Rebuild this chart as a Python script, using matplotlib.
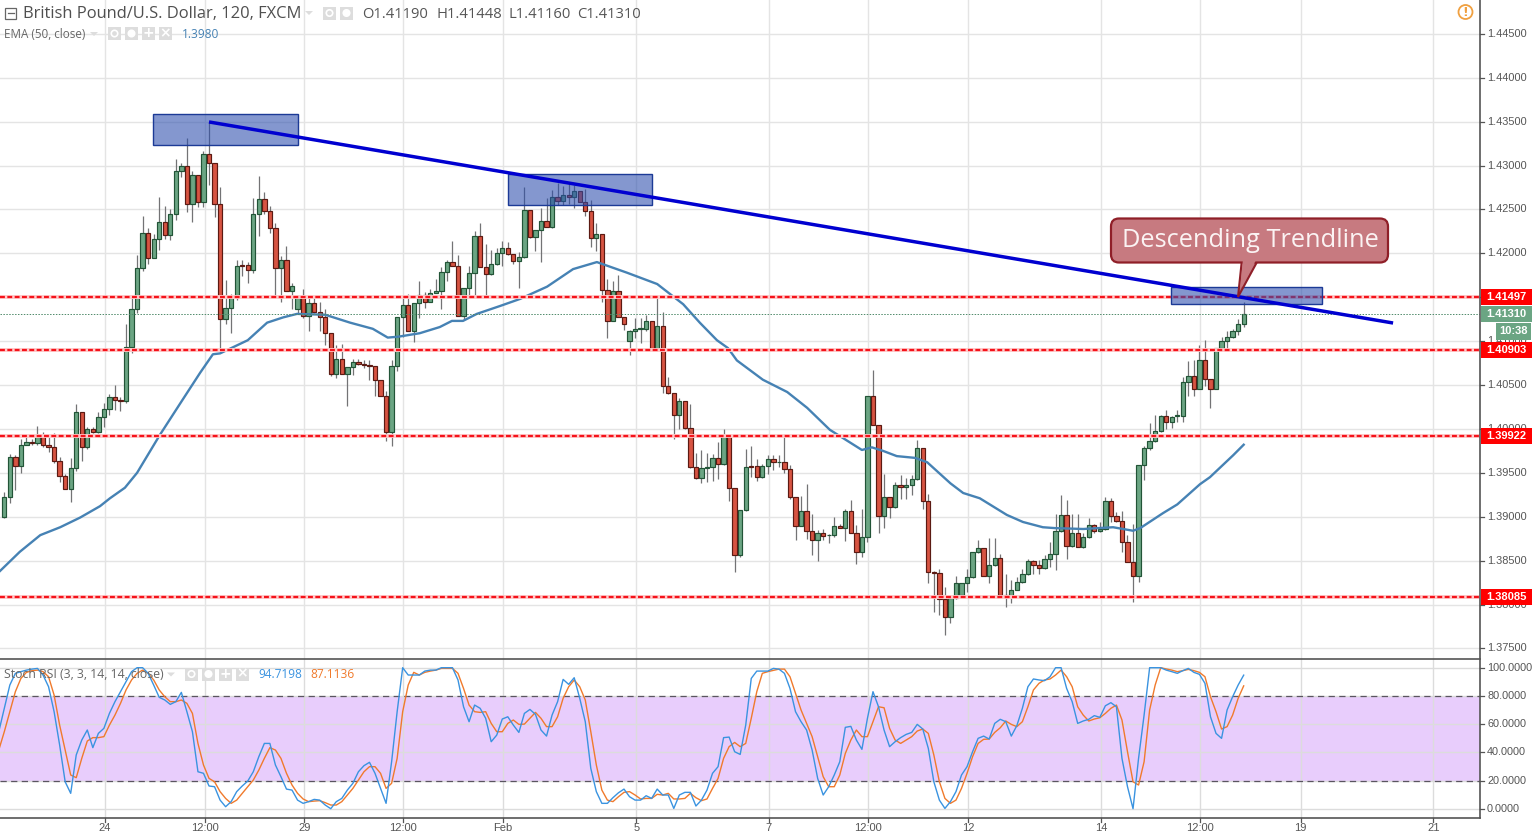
import numpy as np
import matplotlib
matplotlib.use("Agg")
import matplotlib.pyplot as plt
from matplotlib.patches import Rectangle, FancyBboxPatch, Polygon, Circle

# ---------- data ----------
opens = [1.3900,1.3922,1.3968,1.3958,1.3982,1.3985,1.3984,1.3993,1.3982,1.3979,
1.3964,1.3946,1.3932,1.3955,1.4019,1.3979,1.4000,1.3996,1.4013,1.4023,
1.4036,1.4033,1.4032,1.4093,1.4137,1.4183,1.4223,1.4195,1.4216,1.4236,
1.4221,1.4245,1.4294,1.4300,1.4256,1.4289,1.4258,1.4313,1.4303,1.4256,
1.4125,1.4138,1.4150,1.4187,1.4187,1.4181,1.4245,1.4262,1.4248,1.4229,
1.4183,1.4192,1.4157,1.4136,1.4150,1.4129,1.4143,1.4133,1.4127,1.4109,
1.4062,1.4080,1.4063,1.4070,1.4076,1.4074,1.4073,1.4072,1.4056,1.4038,
1.3996,1.4072,1.4128,1.4141,1.4112,1.4143,1.4153,1.4144,1.4155,1.4157,
1.4179,1.4190,1.4186,1.4129,1.4161,1.4177,1.4220,1.4184,1.4176,1.4188,
1.4200,1.4206,1.4199,1.4191,1.4196,1.4249,1.4218,1.4227,1.4237,1.4230,
1.4264,1.4260,1.4266,1.4264,1.4271,1.4258,1.4248,1.4217,1.4222,1.4158,
1.4123,1.4157,1.4128,1.4100,1.4111,1.4114,1.4114,1.4123,1.4090,1.4117,
1.4049,1.4041,1.4016,1.4032,1.4001,1.3957,1.3944,1.3955,1.3957,1.3967,
1.3960,1.3993,1.3933,1.3856,1.3908,1.3958,1.3958,1.3945,1.3958,1.3966,
1.3962,1.3962,1.3954,1.3923,1.3889,1.3906,1.3884,1.3874,1.3881,1.3879,
1.3879,1.3889,1.3887,1.3906,1.3881,1.3860,1.3877,1.4037,1.4005,1.3901,
1.3922,1.3911,1.3936,1.3934,1.3936,1.3943,1.3978,1.3918,1.3837,1.3836,
1.3806,1.3786,1.3807,1.3811,1.3824,1.3831,1.3860,1.3864,1.3833,1.3845,
1.3853,1.3811,1.3809,1.3817,1.3826,1.3835,1.3850,1.3845,1.3842,1.3852,
1.3857,1.3884,1.3902,1.3867,1.3882,1.3865,1.3877,1.3891,1.3884,1.3886,
1.3918,1.3901,1.3895,1.3871,1.3848,1.3833,1.3959,1.3978,1.3986,1.3998,
1.4015,1.4008,1.4015,1.4015,1.4053,1.4060,1.4046,1.4078,1.4057,1.4046,
1.4092,1.4100,1.4105,1.4112,1.4119]
closes = [1.3922,1.3968,1.3958,1.3982,1.3985,1.3984,1.3993,1.3982,1.3979,1.3964,
1.3946,1.3932,1.3955,1.4019,1.3979,1.4000,1.3996,1.4013,1.4023,1.4036,
1.4033,1.4032,1.4093,1.4137,1.4183,1.4223,1.4195,1.4216,1.4236,1.4221,
1.4245,1.4294,1.4300,1.4256,1.4289,1.4258,1.4313,1.4303,1.4256,1.4125,
1.4138,1.4150,1.4186,1.4186,1.4181,1.4245,1.4262,1.4248,1.4229,1.4183,
1.4192,1.4157,1.4163,1.4150,1.4129,1.4143,1.4133,1.4127,1.4109,1.4062,
1.4080,1.4063,1.4070,1.4076,1.4074,1.4073,1.4072,1.4056,1.4038,1.3996,
1.4072,1.4128,1.4141,1.4112,1.4143,1.4153,1.4144,1.4155,1.4157,1.4179,
1.4190,1.4186,1.4129,1.4161,1.4177,1.4220,1.4184,1.4176,1.4188,1.4200,
1.4206,1.4199,1.4191,1.4196,1.4249,1.4218,1.4227,1.4237,1.4230,1.4264,
1.4260,1.4266,1.4264,1.4271,1.4258,1.4248,1.4217,1.4222,1.4158,1.4123,
1.4157,1.4128,1.4120,1.4111,1.4114,1.4114,1.4123,1.4090,1.4117,1.4049,
1.4041,1.4016,1.4032,1.4001,1.3957,1.3944,1.3955,1.3957,1.3967,1.3960,
1.3993,1.3933,1.3856,1.3908,1.3957,1.3957,1.3945,1.3958,1.3966,1.3962,
1.3962,1.3954,1.3923,1.3889,1.3906,1.3884,1.3874,1.3881,1.3878,1.3879,
1.3889,1.3887,1.3906,1.3881,1.3860,1.3877,1.4037,1.4005,1.3901,1.3922,
1.3911,1.3936,1.3934,1.3936,1.3943,1.3978,1.3918,1.3837,1.3836,1.3806,
1.3786,1.3807,1.3824,1.3824,1.3831,1.3860,1.3864,1.3833,1.3845,1.3853,
1.3811,1.3809,1.3817,1.3826,1.3835,1.3850,1.3845,1.3842,1.3852,1.3857,
1.3884,1.3902,1.3867,1.3882,1.3865,1.3877,1.3891,1.3884,1.3886,1.3918,
1.3901,1.3895,1.3871,1.3848,1.3833,1.3959,1.3978,1.3986,1.3998,1.4015,
1.4008,1.4014,1.4015,1.4053,1.4060,1.4046,1.4078,1.4057,1.4046,1.4092,
1.4100,1.4105,1.4112,1.4119,1.4131]
highs = [1.3928,1.3971,1.3970,1.3988,1.3991,1.3988,1.4003,1.3996,1.3991,1.3995,
1.3968,1.3949,1.3967,1.4028,1.4019,1.4002,1.4002,1.4019,1.4029,1.4040,
1.4050,1.4036,1.4119,1.4151,1.4198,1.4243,1.4229,1.4222,1.4264,1.4254,
1.4250,1.4307,1.4303,1.4331,1.4294,1.4289,1.4316,1.4350,1.4303,1.4276,
1.4170,1.4154,1.4192,1.4192,1.4190,1.4263,1.4288,1.4270,1.4254,1.4234,
1.4197,1.4208,1.4166,1.4153,1.4159,1.4149,1.4150,1.4145,1.4137,1.4109,
1.4095,1.4097,1.4070,1.4080,1.4080,1.4078,1.4078,1.4072,1.4056,1.4043,
1.4078,1.4128,1.4149,1.4154,1.4143,1.4168,1.4156,1.4159,1.4171,1.4184,
1.4192,1.4214,1.4198,1.4161,1.4185,1.4225,1.4234,1.4211,1.4204,1.4206,
1.4214,1.4213,1.4199,1.4202,1.4276,1.4249,1.4227,1.4252,1.4263,1.4272,
1.4280,1.4277,1.4280,1.4278,1.4271,1.4273,1.4261,1.4234,1.4222,1.4171,
1.4169,1.4175,1.4128,1.4113,1.4126,1.4126,1.4130,1.4123,1.4150,1.4133,
1.4059,1.4041,1.4035,1.4032,1.4028,1.3972,1.3976,1.3972,1.3971,1.3985,
1.4000,1.3993,1.3933,1.3908,1.3977,1.3981,1.3966,1.3960,1.3970,1.3970,
1.3970,1.3994,1.3959,1.3923,1.3924,1.3937,1.3903,1.3885,1.3886,1.3880,
1.3900,1.3892,1.3909,1.3919,1.3890,1.3909,1.4037,1.4067,1.4005,1.3949,
1.3922,1.3939,1.3947,1.3944,1.3947,1.3987,1.3978,1.3926,1.3838,1.3841,
1.3820,1.3807,1.3833,1.3825,1.3840,1.3860,1.3873,1.3864,1.3876,1.3876,
1.3858,1.3835,1.3828,1.3831,1.3840,1.3852,1.3851,1.3851,1.3856,1.3871,
1.3903,1.3925,1.3919,1.3903,1.3903,1.3882,1.3898,1.3892,1.3894,1.3922,
1.3921,1.3905,1.3906,1.3879,1.3892,1.3959,1.3980,1.4007,1.4016,1.4016,
1.4021,1.4015,1.4021,1.4059,1.4077,1.4078,1.4096,1.4101,1.4057,1.4092,
1.4105,1.4111,1.4114,1.4125,1.41448]
lows = [1.3898,1.3916,1.3930,1.3950,1.3982,1.3982,1.3982,1.3979,1.3974,1.3961,
1.3939,1.3932,1.3917,1.3952,1.3964,1.3977,1.3995,1.3995,1.4002,1.4016,
1.4022,1.4020,1.4029,1.4087,1.4132,1.4180,1.4188,1.4195,1.4204,1.4216,
1.4215,1.4238,1.4287,1.4247,1.4236,1.4253,1.4253,1.4278,1.4241,1.4090,
1.4120,1.4109,1.4147,1.4174,1.4166,1.4178,1.4220,1.4245,1.4223,1.4150,
1.4145,1.4157,1.4137,1.4131,1.4126,1.4112,1.4132,1.4112,1.4095,1.4060,
1.4058,1.4062,1.4026,1.4061,1.4073,1.4069,1.4056,1.4037,1.4037,1.3986,
1.3981,1.4066,1.4105,1.4112,1.4099,1.4126,1.4138,1.4144,1.4155,1.4136,
1.4168,1.4185,1.4129,1.4124,1.4150,1.4151,1.4184,1.4151,1.4175,1.4187,
1.4185,1.4198,1.4188,1.4161,1.4195,1.4217,1.4203,1.4190,1.4230,1.4229,
1.4255,1.4255,1.4256,1.4252,1.4258,1.4242,1.4207,1.4203,1.4145,1.4103,
1.4123,1.4128,1.4113,1.4084,1.4103,1.4098,1.4112,1.4090,1.4089,1.4041,
1.4040,1.3988,1.4000,1.4000,1.3955,1.3943,1.3938,1.3939,1.3941,1.3943,
1.3959,1.3918,1.3837,1.3854,1.3907,1.3945,1.3941,1.3944,1.3949,1.3953,
1.3957,1.3950,1.3920,1.3873,1.3889,1.3875,1.3856,1.3850,1.3873,1.3870,
1.3877,1.3887,1.3872,1.3881,1.3846,1.3854,1.3871,1.4004,1.3881,1.3887,
1.3898,1.3910,1.3920,1.3920,1.3925,1.3942,1.3909,1.3824,1.3791,1.3788,
1.3765,1.3779,1.3806,1.3809,1.3814,1.3830,1.3859,1.3832,1.3825,1.3844,
1.3810,1.3797,1.3802,1.3816,1.3825,1.3834,1.3835,1.3835,1.3840,1.3843,
1.3839,1.3883,1.3852,1.3866,1.3865,1.3864,1.3876,1.3881,1.3883,1.3885,
1.3894,1.3894,1.3860,1.3848,1.3803,1.3826,1.3942,1.3976,1.3985,1.3996,
1.4000,1.4001,1.4008,1.4008,1.4038,1.4038,1.4045,1.4049,1.4024,1.4045,
1.4091,1.4091,1.4104,1.4107,1.41160]

ema_bar = [-0.8,2.8,6.5,10.1,13.7,17.3,19.1,21.8,24,28.1,32.1,35.4,37.7,39,44,47.5,50.4,52.9,58,62.5,66.6,69.3,71.2,
75.1,78.7,80.9,82.9,85.4,89.6,93.2,98.1,102.8,107.1,108.9,112.5,118,122.7,125.7,128.8,130.8,132.4,137.1,141.5,145.1,149.2,
155,156.8,158.8,161.3,164.6,166.8,171,173.3,176.3,181.2,184.1,187.7,189.9,195,200.4,204,205.3,209.4,212,216.1,217.9,222.1,224]
ema_val = [1.3838,1.3860,1.3879,1.3888,1.3899,1.3912,1.3921,1.3933,1.3950,1.3993,1.4032,1.4064,1.4085,1.4086,1.4101,1.4121,1.4127,1.4131,1.4130,1.4121,1.4114,1.4104,1.4105,
1.4109,1.4116,1.4123,1.4123,1.4131,1.4140,1.4148,1.4162,1.4182,1.4190,1.4186,1.4178,1.4165,1.4142,1.4121,1.4101,1.4092,1.4078,1.4056,1.4042,1.4024,1.3999,
1.3976,1.3979,1.3975,1.3969,1.3967,1.3962,1.3938,1.3927,1.3921,1.3902,1.3894,1.3888,1.3887,1.3886,1.3888,1.3884,1.3887,1.3904,1.3914,1.3937,1.3945,1.3970,1.3982]

# Stoch RSI, one value per bar starting from bar -1
stoch_k = [54.6,71.2,87.7,96,97.2,98.3,99,99.5,94.8,86.5,68.8,45.2,19.1,10.9,38.1,48.7,55.8,43.3,53.4,57,67.6,75.9,83,90.1,97.2,100,100,96,87.7,79,77.1,74,75.9,82.5,68.8,54.6,26.2,25.1,16.1,15.6,6.1,1.4,5,12.1,16.1,19.6,26.2,36.9,46.3,46.3,31,22.7,13.9,13.2,6.1,3.8,5,6.6,6.1,2.6,0,5,7.3,13.2,18,26.2,30.5,32.9,25.1,14.4,3.8,33.3,68.8,100,94.8,94.8,94.8,97.6,98.3,98.3,100,100,100,91.3,72.3,61.7,73.5,71.2,64.1,47.5,52.2,
63.6,65.2,59.3,54.1,67.6,70.4,66.9,55.8,51.5,66.4,75.9,91.7,88.2,92.9,78.3,61.7,28.6,12.1,3.8,3.8,7.8,11.3,13.9,8.5,6.1,6.1,9.2,7.3,13.9,9.7,9.7,0.2,9.7,11.6,11.6,1.9,6.1,13.2,25.1,29.8,50.4,50.8,40.4,38.5,59.3,92.4,97.6,97.6,97.6,99.5,99,96,85.3,68.8,61.7,55.8,41.6,21.5,9.7,15.6,23.9,33.3,57.7,58.4,48.7,42.1,64.1,83,72.3,55.8,44,47.5,50.4,52.7,54.1,59.8,56.5,42.8,19.1,6.1,0.2,5,12.1,23.9,29.8,40.4,49.9,51.5,49.4,60.5,
63.4,61.7,51.5,58.9,71.2,86.5,92,91.3,90.8,93.6,100,100,85.3,75.9,60.5,62.2,63.4,66,64.8,73,75.2,72.3,35.7,15.6,0,35.7,66.4,100,100,100,98.3,97.2,96,97.9,99.5,96.7,95.3,88.9,65.2,53.4,49.9,70,79.4,87.7,94.7198]
stoch_d = [41.6,54.6,68.8,83,92.4,96.7,97.9,98.3,97.2,93.6,80.6,59.3,41.6,23.9,22,35.7,48,50.4,50.4,51.1,59.3,66.4,74.7,84.2,91.3,96,98.3,96,91.3,84.2,79.4,75.9,75.9,77.1,74.7,67.6,46.3,31,21.5,19.1,12.1,7.3,3.8,6.1,10.9,15.6,20.3,27.4,35.7,43.3,41.6,35.7,25.1,16.8,10.9,6.9,5,5.4,5.7,4.3,2.6,2.6,5,9.7,14.4,20.3,26.2,29.8,29.8,25.1,14.4,18,35.7,68.8,87.7,96.7,94.8,96.7,97.6,98.3,99.5,99.5,99.5,96,85.3,73.5,68.8,68.3,68.8,60.5,54.6,
54.6,60.5,62.9,59.8,60,64.1,68.3,64.1,58.2,58.2,65.2,78.3,86.5,91.3,86.5,77.1,54.6,31,13.2,6.1,5,8.5,11.6,12.1,9.7,6.9,7.3,7.3,10.2,9.7,10.9,6.9,6.9,7.3,10.9,7.8,5.7,6.9,14.4,21.5,35.7,44,47,44,46.3,64.1,83,96,97.2,98.1,99,99,93.6,81.8,70,60.5,51.1,36.9,22.7,15.6,15.6,23.9,39.2,48.7,55.8,51.1,51.1,61.7,72.3,71.6,57,48.7,46.3,48.7,51.1,55.1,56.5,53.4,38.1,19.1,7.3,3.8,6.1,14.4,25.1,36.9,46.3,49.2,49.4,54.1,
57.4,62.2,59.8,58.2,61.7,72.3,84.2,88.9,91.3,92,94.8,98.3,93.6,86.5,72.3,66.4,62.2,63.6,64.5,67.6,71.2,73.5,62.9,40.4,19.1,16.8,33.3,70,87.7,100,99.1,98.3,97.2,97.9,98.8,97.9,96.7,93.6,79.4,68.8,56.5,58.2,66.4,78.3,87.1136]

price_ticks = [1.375,1.38,1.385,1.39,1.395,1.40,1.405,1.41,1.415,1.42,1.425,1.43,1.435,1.44,1.445]
price_labels_hidden = [1.415]   # fully covered by the 1.41497 tag in the reference
stoch_ticks = [0,20,40,60,80,100]
time_bars = [18.2,36.2,54.2,72.1,90.1,114.2,138.2,156.1,174.2,198.3,216.1,234.3,258.3]
time_labels = ["24","12:00","29","12:00","Feb","5","7","12:00","12","14","12:00","19","21"]
level_prices = [1.41497,1.40903,1.39922,1.38085]
last_price = 1.41310
trend_bars = [37,251]
trend_prices = [1.43496,1.41206]
zone_bars = [(26.9,53.1),(91.1,117.0),(210.9,238.1)]
zone_prices = [(1.43234,1.43587),(1.42547,1.42900),(1.41419,1.41613)]

# ---------- layout ----------
W,H = 1532,833
PX_RIGHT, PX_PANE, PX_BOTTOM = 1480,658.5,818
fig = plt.figure(figsize=(W/100,H/100),dpi=100,facecolor="white")
ax = fig.add_axes([0,1-PX_PANE/H,PX_RIGHT/W,PX_PANE/H])
ax2 = fig.add_axes([0,1-PX_BOTTOM/H,PX_RIGHT/W,(PX_BOTTOM-PX_PANE)/H])
ov = fig.add_axes([0,0,1,1],zorder=10); ov.set_xlim(0,W); ov.set_ylim(H,0); ov.axis("off"); ov.patch.set_alpha(0)

x0,dx = 4.3,5.533
for a in (ax,ax2):
    a.set_xlim(-x0/dx,(PX_RIGHT-x0)/dx)
    a.set_xticks(time_bars)
    a.tick_params(axis="both",length=0,labelleft=False,labelbottom=False,labelright=False)
    a.grid(True,color="#e4e4e4",lw=1)
    a.set_axisbelow(True)
    for s in a.spines.values(): s.set_visible(False)
ppx = 0.005/43.9
ax.set_ylim(1.405-(PX_PANE-385)*ppx,1.405+385*ppx)
ax.set_yticks(price_ticks)
ax2.set_ylim(-(PX_BOTTOM-808.7)/1.41,(808.7-PX_PANE)/1.41)
ax2.set_yticks(stoch_ticks)

# ---------- price pane ----------
o,c,h,l = map(np.array,(opens,closes,highs,lows))
bars = np.arange(len(o))
up = c>=o
ax.vlines(bars,l,h,color="#737375",lw=0.9,zorder=2)
top,bot = np.maximum(o,c),np.minimum(o,c)
hgt = np.maximum(top-bot,0.00006)
ax.bar(bars[up],hgt[up],bottom=bot[up],width=0.78,color="#6ba583",edgecolor="#225437",lw=0.85,zorder=3)
ax.bar(bars[~up],hgt[~up],bottom=bot[~up],width=0.78,color="#d75442",edgecolor="#5b1a13",lw=0.85,zorder=3)
ax.plot(ema_bar,ema_val,color="#4682b4",lw=1.7,zorder=4,solid_joinstyle="round")
ax.axhline(last_price,color="#4f8a6a",lw=0.7,ls=(0,(1.5,1.5)),zorder=4)
for lv in level_prices:
    ax.axhline(lv,color="#ffc9c9",lw=2.8,zorder=4)
    ax.axhline(lv,color="#f5121a",lw=1.6,ls=(0,(2.2,1.1)),zorder=5)
for (b0,b1),(p0,p1) in zip(zone_bars,zone_prices):
    ax.add_patch(Rectangle((b0,p0),b1-b0,p1-p0,facecolor=(0.17,0.30,0.68,0.58),edgecolor="#1c3a96",lw=1,zorder=6))
ax.plot(trend_bars,trend_prices,color="#0000d0",lw=2.5,zorder=7,solid_capstyle="butt")

# ---------- stochastic pane ----------
sb = np.arange(-1,len(stoch_k)-1)
ax2.axhspan(20,80,facecolor="#e8cdfc",zorder=0.5)
ax2.grid(True,color="#dcdcdc",lw=1,zorder=1)
for v in (20,80):
    ax2.axhline(v,color="#5a5560",lw=0.9,ls=(0,(5,3.5)),zorder=2)
ax2.plot(sb,stoch_d,color="#f07a2c",lw=1.0,zorder=3)
ax2.plot(sb,stoch_k,color="#3a93e0",lw=1.0,zorder=4)

# ---------- frames and axis text (pixel overlay) ----------
dark = "#555555"
ov.plot([0,PX_RIGHT],[PX_PANE]*2,color=dark,lw=1.2)
ov.plot([0,PX_RIGHT],[PX_BOTTOM]*2,color=dark,lw=1.2)
ov.plot([PX_RIGHT]*2,[0,PX_BOTTOM],color=dark,lw=1.2)
sans = "Liberation Sans"
def ypx(p): return 385-(p-1.405)/ppx
for p in price_ticks:
    y = ypx(p)
    ov.plot([PX_RIGHT,PX_RIGHT+4],[y,y],color=dark,lw=0.9)
    if p not in price_labels_hidden:
        ov.text(1487,y,f"{p:.5f}",fontsize=7.9,color="#555555",va="center",ha="left",family=sans)
for v in stoch_ticks:
    y = 808.7-v*1.41
    ov.plot([PX_RIGHT,PX_RIGHT+4],[y,y],color=dark,lw=0.9)
    ov.text(1487,y,f"{v:.4f}",fontsize=7.8,color="#555555",va="center",ha="left",family=sans)
for b,t in zip(time_bars,time_labels):
    x = x0+dx*b
    ov.plot([x,x],[PX_BOTTOM,PX_BOTTOM+4],color=dark,lw=0.9)
    ov.text(x,828,t,fontsize=8,color="#555555",va="center",ha="center",family=sans)

def tag(x0_,x1_,y,txt,col,h_=16):
    ov.add_patch(Rectangle((x0_,y-h_/2),x1_-x0_,h_,facecolor=col,edgecolor="none",zorder=12))
    ov.text((x0_+x1_)/2,y,txt,fontsize=8,color="white",fontweight="bold",va="center",ha="center",family=sans,zorder=13)
for lv in level_prices:
    tag(1481,1532,ypx(lv),f"{lv:.5f}","#ff0000")
tag(1481,1532,ypx(last_price),f"{last_price:.5f}","#6ba583")
tag(1496,1531,331,"10:38","#6ba583",17)

# ---------- callout ----------
fill = (0.72,0.36,0.40,0.82)
ov.add_patch(Polygon([(1241.7,262),(1257,262),(1238,297)],closed=True,facecolor=fill,edgecolor="#8f1f28",lw=1.5,zorder=11))
ov.add_patch(FancyBboxPatch((1118,225.5),263,30,boxstyle="round,pad=7,rounding_size=8",facecolor=(0.78,0.48,0.50,1),edgecolor="#8f1f28",lw=1.6,zorder=12))
ov.add_patch(Polygon([(1242.8,261),(1255.5,261),(1240,290)],closed=True,facecolor=(0.78,0.48,0.50,1),edgecolor="none",zorder=13))
ov.text(1250,240.5,"Descending Trendline",fontsize=18.3,color="#fbf3f3",va="center",ha="center",family="Open Sans",zorder=14)

# ---------- legends ----------
def icons(xs,y,s=13):
    for x,g in xs:
        ov.add_patch(Rectangle((x,y-s/2),s,s,facecolor="#dddddd",edgecolor="none"))
        if g in "+x":
            ov.text(x+s/2,y-0.5,{"+":"+","x":"\u00d7"}[g],fontsize=10,color="white",ha="center",va="center",fontweight="bold")
        else:
            ov.add_patch(Circle((x+s/2,y),3.2,facecolor="white" if g=="g" else "none",edgecolor="white",lw=1.2))
ov.add_patch(Rectangle((5,7.5),11,11,facecolor="white",edgecolor="#666666",lw=0.9))
ov.plot([7.5,13.5],[13,13],color="#666666",lw=0.9)
legend = "Open Sans"
ov.text(23,14,"British Pound/U.S. Dollar, 120, FXCM",fontsize=11.85,color="#4f4f4f",va="center",family=legend)
ov.add_patch(Polygon([(305,11),(313,11),(309,15)],facecolor="#dddddd",edgecolor="none"))
icons([(323,"e"),(340,"g")],13)
ov.text(362,14,"O1.41190",fontsize=10.6,color="#555555",va="center",family=legend)
ov.text(436,14,"H1.41448",fontsize=10.6,color="#555555",va="center",family=legend)
ov.text(508,14,"L1.41160",fontsize=10.6,color="#555555",va="center",family=legend)
ov.text(577,14,"C1.41310",fontsize=10.6,color="#555555",va="center",family=legend)
ov.text(4,34,"EMA (50, close)",fontsize=8.4,color="#666666",va="center",family=legend)
ov.add_patch(Polygon([(90,32),(98,32),(94,36)],facecolor="#dddddd",edgecolor="none"))
icons([(108,"e"),(125,"g"),(142,"+"),(159,"x")],33.5)
ov.text(182,34,"1.3980",fontsize=8.6,color="#4682b4",va="center",family=legend)
ov.text(4,674.5,"Stoch RSI (3, 3, 14, 14, close)",fontsize=8.8,color="#666666",va="center",family=legend)
ov.add_patch(Polygon([(167,672.5),(175,672.5),(171,676.5)],facecolor="#dddddd",edgecolor="none"))
icons([(185,"e"),(202,"g"),(219,"+"),(236,"x")],674)
ov.text(258,674.5,"94.7198",fontsize=8.6,color="#3a93e0",va="center",family=legend)
ov.text(310,674.5,"87.1136",fontsize=8.6,color="#f07a2c",va="center",family=legend)
ov.add_patch(Circle((1465.5,12),7,facecolor="white",edgecolor="#f0a040",lw=1.3))
ov.text(1465.5,12,"!",fontsize=9,color="#f0a040",ha="center",va="center",fontweight="bold")

fig.savefig("out.png",dpi=100)
